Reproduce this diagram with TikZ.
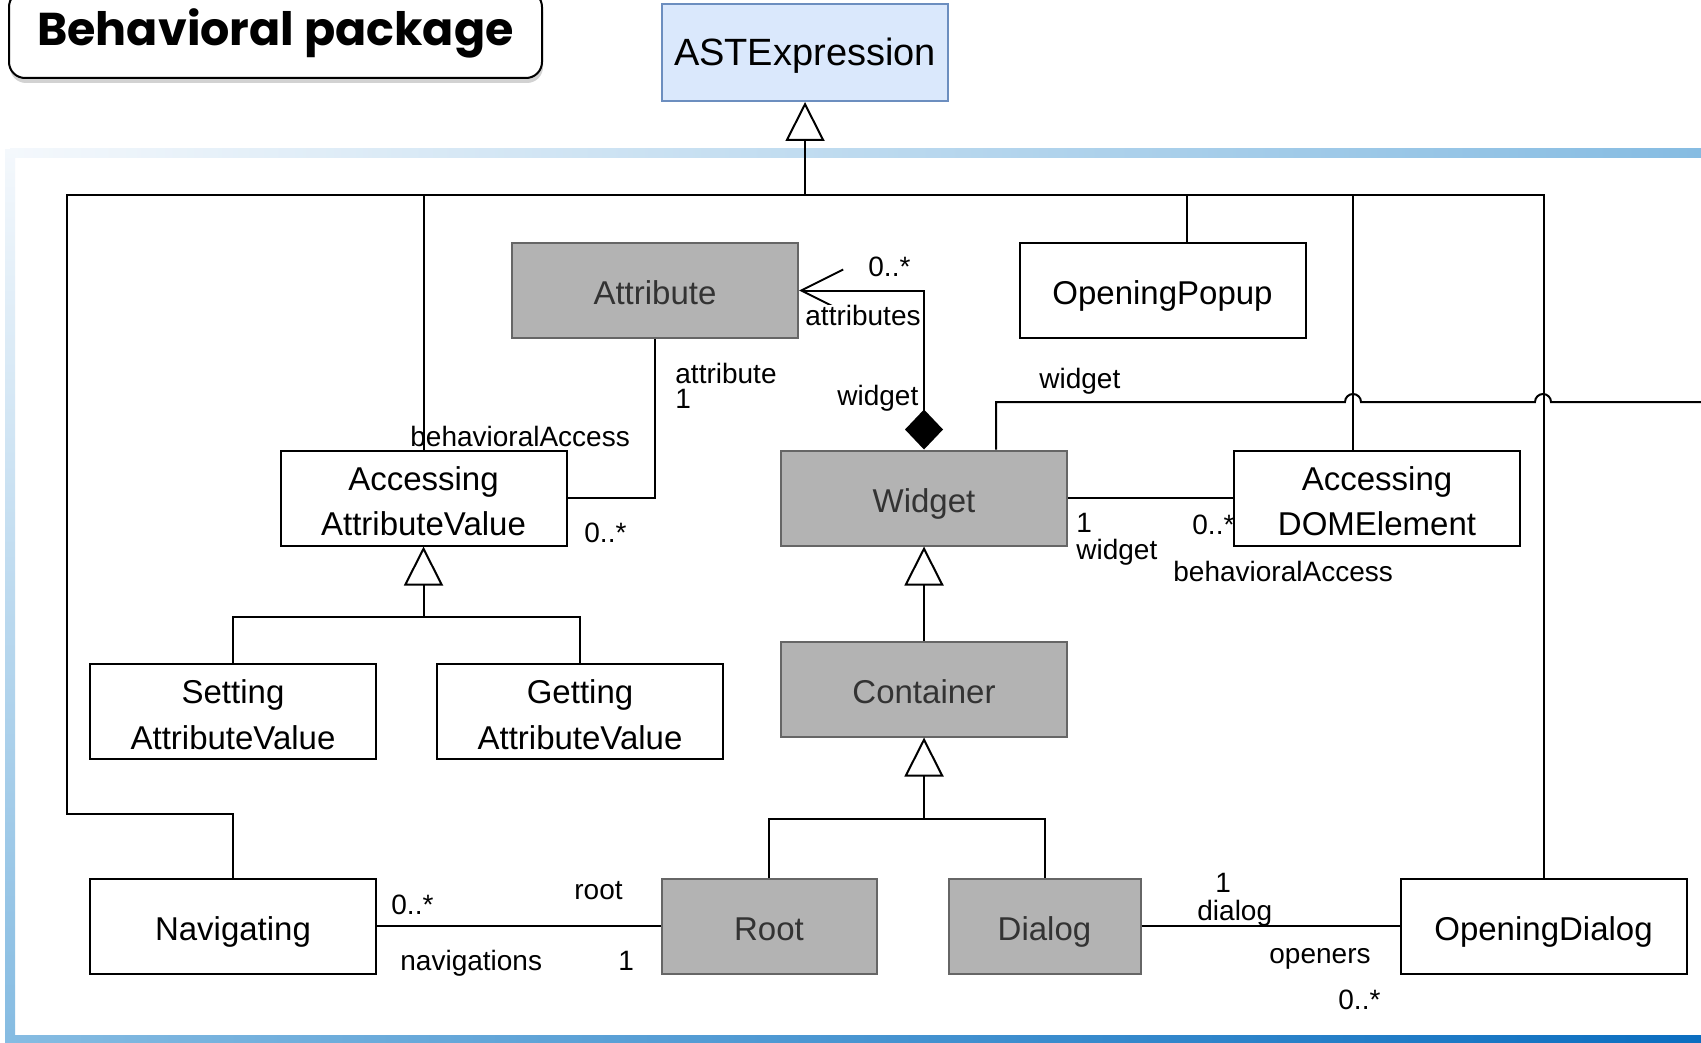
\documentclass[tikz,border=0pt]{standalone}
\usepackage{fontspec}
\setmainfont{Liberation Sans}
\newfontfamily\titlefont{Poppins}
\usetikzlibrary{positioning}
\usetikzlibrary{arrows.meta}
\usetikzlibrary{shadows}

\definecolor{astfill}{HTML}{DAE8FC}
\definecolor{astline}{HTML}{6C8EBF}
\definecolor{clsgrey}{HTML}{B3B3B3}
\definecolor{clsline}{HTML}{666666}
\definecolor{clstext}{HTML}{333333}
\definecolor{barlight}{HTML}{F4F8FC}
\definecolor{barmid}{HTML}{86BCE2}
\definecolor{bardark}{HTML}{0B6EC0}

\tikzset{
  cls/.style={draw, line width=1pt, fill=white, minimum width=143pt, minimum height=47.5pt,
    inner sep=0pt, align=center, font=\fontsize{16.5}{22.8}\selectfont},
  onecls/.style={cls, text height=14pt, text depth=0pt},
  greycls/.style={onecls, fill=clsgrey, draw=clsline, text=clstext},
  lbl/.style={inner sep=0pt, anchor=base west, font=\fontsize{14}{15}\selectfont},
  assoc/.style={line width=1pt},
  gen/.style={assoc, -{Triangle[open, width=19.5pt, length=19.5pt]}},
}
\newcommand{\toppad}{\rule{0pt}{15pt}}

\begin{document}
\begin{tikzpicture}[x=0.5pt, y=-0.5pt]
    \useasboundingbox (0,0) rectangle (1701,1043);
    \fill[white] (0,0) rectangle (1701,1043);
    % slide frame
    \shade[left color=barlight, right color=barmid] (10,149) rectangle (1701,158);
    \shade[top color=barlight, bottom color=barmid] (5,150) rectangle (15,1036);
    \shade[left color=barmid, right color=bardark] (5,1035) rectangle (1701,1043);
    \node[draw, line width=1pt, rounded corners=8pt, fill=white, anchor=base,
      minimum width=266.5pt, minimum height=43.5pt, text height=16pt, text depth=5pt,
      drop shadow={shadow xshift=0.5pt, shadow yshift=-2.5pt, opacity=0.35},
      font=\titlefont\bfseries\fontsize{23}{27}\selectfont] (Title) at (275.5,45.5) {Behavioral package};
    % set up the nodes
    \node[onecls, fill=astfill, draw=astline, minimum height=48.5pt, text height=13.5pt,
      font=\fontsize{19}{22}\selectfont] (AST) at (805,52.5) {ASTExpression};
    \node[greycls] (Attr) at (655,290.5) {Attribute};
    \node[onecls] (Popup) at (1162.5,290.5) {OpeningPopup};
    \node[cls] (AAV) at (423.5,498) {\toppad Accessing\\AttributeValue};
    \node[greycls] (Wdg) at (924,498) {Widget};
    \node[cls] (ADE) at (1377,498) {\toppad Accessing\\DOMElement};
    \node[greycls, below=47pt of Wdg] (Cont) {Container};
    \node[cls] (SAV) at (233,711.5) {\toppad Setting\\AttributeValue};
    \node[cls, right=29.5pt of SAV] (GAV) {\toppad Getting\\AttributeValue};
    \node[onecls] (Nav) at (233,926) {Navigating};
    \node[greycls, minimum width=107.5pt] (Root) at (769,926) {Root};
    \node[greycls, minimum width=96pt, right=35pt of Root] (Dlg) {Dialog};
    \node[onecls] (ODlg) at (1543.5,926) {OpeningDialog};
    \coordinate (Bus) at (805,195);
    \coordinate (AAVfork) at (423.5,617);
    \coordinate (Contfork) at (924,819);
    \coordinate (Wend) at (1701,402);
    % generalizations
    \draw[gen] (Bus) -- (AST);
    \draw[assoc] (Nav.north) |- (67,814) |- (ODlg.north |- Bus) -- (ODlg.north);
    \draw[assoc] (AAV.north) |- (Bus);
    \draw[assoc] ([xshift=12pt]Popup.north) |- (Bus);
    \draw[assoc] ([xshift=-12pt]ADE.north) |- (Bus);
    \draw[assoc] (SAV.north) |- (AAVfork) -| (GAV.north);
    \draw[gen] (AAVfork) -- (AAV.south);
    \draw[gen] (Cont) -- (Wdg);
    \draw[assoc] (Root.north) |- (Contfork) -| (Dlg.north);
    \draw[gen] (Contfork) -- (Cont.south);
    % associations
    \draw[assoc, {Diamond[width=19pt, length=20pt]}-{Straight Barb[width=21pt, length=21pt]}]
      (Wdg.north) |- (Attr.east);
    \draw[assoc] (AAV.east) -| (Attr.south);
    \draw[assoc] (Wdg) -- (ADE);
    \draw[assoc] ([xshift=36pt]Wdg.north) |- (1345,402)
      arc[start angle=180, end angle=0, radius=4pt] -- (1535,402)
      arc[start angle=180, end angle=0, radius=4pt] -- (Wend);
    \draw[assoc] (Nav) -- (Root);
    \draw[assoc] (Dlg) -- (ODlg);
    % role names and multiplicities
    \node[lbl] (t1) at (868,277) {0..*};
    \node[lbl, fill=white] (t2) at (805,325) {attributes};
    \node[lbl] (t3) at (837,405) {widget};
    \node[lbl] (t4) at (675,383) {attribute};
    \node[lbl] (t5) at (675,408) {1};
    \node[lbl] (t6) at (410,446) {behavioralAccess};
    \node[lbl] (t7) at (584,542) {0..*};
    \node[lbl] (t8) at (1039,388) {widget};
    \node[lbl] (t9) at (1076,532) {1};
    \node[lbl] (t10) at (1076,559) {widget};
    \node[lbl] (t11) at (1192,534) {0..*};
    \node[lbl] (t12) at (1173,581) {behavioralAccess};
    \node[lbl] (t13) at (391,914) {0..*};
    \node[lbl] (t14) at (574,899) {root};
    \node[lbl] (t15) at (400,970) {navigations};
    \node[lbl] (t16) at (618,970) {1};
    \node[lbl] (t17) at (1215,892) {1};
    \node[lbl] (t18) at (1197,920) {dialog};
    \node[lbl] (t19) at (1269,963) {openers};
    \node[lbl] (t20) at (1338,1009) {0..*};
\end{tikzpicture}
\end{document}
